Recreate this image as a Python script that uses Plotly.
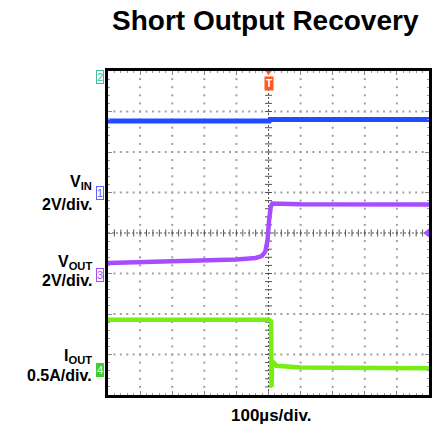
import numpy as np
import plotly.graph_objects as go

# ---- data (time in microseconds, 100 us/div, trigger at 0) ----
t_vin = [-500, 3, 6, 500]
vin_v = [3.53, 3.53, 3.60, 3.60]          # volts, 2 V/div

t_vout = [-500, -300, -100, -40, -21, -10, -3, 2, 7, 12, 100, 500]
vout_v = [0.60, 0.67, 0.77, 0.85, 0.94, 1.16, 1.73, 2.72, 3.38, 3.54, 3.50, 3.49]  # volts, 2 V/div

t_iout = [-500, 0, 8, 9.5, 11, 14, 25, 100, 500]
iout_a = [0.62, 0.62, 0.60, -0.21, 0.05, 0.10, 0.05, 0.03, 0.02]   # amps, 0.5 A/div

# channel scale (units/div) and ground offset (div)
ch1_scale, ch1_off = 2.0, 1.0
ch3_scale, ch3_off = 2.0, -1.04
ch4_scale, ch4_off = 0.5, -3.38
ch2_off = 3.85
trigger_level = 0.0

X_RANGE = [-500, 500]
Y_RANGE = [-4, 4]

BLUE = "#1f4cff"
PURPLE = "#a64dff"
GREEN = "#77ee11"
TEAL = "#3cbf9c"
ORANGE = "#ff5a1e"
GRID = "#555555"
FONT = "Liberation Sans"

def to_div(vals, scale, off):
    return [off + v / scale for v in vals]

fig = go.Figure()

# grid dots
gx, gy = [], []
for xv in range(-400, 401, 100):
    if xv == 0:
        continue
    for yv in np.arange(-3.8, 3.81, 0.2):
        gx.append(xv); gy.append(yv)
for yv in range(-3, 4):
    if yv == 0:
        continue
    for xv in range(-480, 481, 20):
        gx.append(xv); gy.append(yv)
fig.add_trace(go.Scatter(x=gx, y=gy, mode="markers", hoverinfo="skip",
                         marker=dict(symbol="square", size=2, color="#a0a0a0", line=dict(width=0))))

# centre crosshair
fig.add_trace(go.Scatter(x=X_RANGE, y=[0, 0], mode="lines", hoverinfo="skip",
                         line=dict(color=GRID, width=1, dash="2px,2px")))
fig.add_trace(go.Scatter(x=[0, 0], y=Y_RANGE, mode="lines", hoverinfo="skip",
                         line=dict(color=GRID, width=1, dash="2px,2px")))
cx = list(range(-480, 481, 20))
fig.add_trace(go.Scatter(x=cx, y=[0] * len(cx), mode="markers", hoverinfo="skip",
                         marker=dict(symbol="line-ns-open", size=5, color=GRID, line=dict(color=GRID, width=1))))
cy = list(np.arange(-3.8, 3.81, 0.2))
fig.add_trace(go.Scatter(x=[0] * len(cy), y=cy, mode="markers", hoverinfo="skip",
                         marker=dict(symbol="line-ew-open", size=5, color=GRID, line=dict(color=GRID, width=1))))

# traces
fig.add_trace(go.Scatter(x=t_vin, y=to_div(vin_v, ch1_scale, ch1_off), mode="lines",
                         line=dict(color=BLUE, width=5)))
fig.add_trace(go.Scatter(x=t_iout, y=to_div(iout_a, ch4_scale, ch4_off), mode="lines",
                         line=dict(color=GREEN, width=4.5)))
fig.add_trace(go.Scatter(x=t_vout, y=to_div(vout_v, ch3_scale, ch3_off), mode="lines",
                         line=dict(color=PURPLE, width=4.5)))

# trigger level arrow
fig.add_trace(go.Scatter(x=[494], y=[trigger_level], mode="markers", cliponaxis=False, hoverinfo="skip",
                         marker=dict(symbol="triangle-left", size=8, color=PURPLE)))

L, R, T, B = 108, 2, 71, 32
W, H = 434, 427
PW, PH = W - L - R, H - T - B

def px(xp):
    return (xp - L) / PW

def py(yp):
    return (H - B - yp) / PH

ann = []

def label(text, xp, yp, size=16, anchor="right", color="black"):
    ann.append(dict(text=text, x=px(xp), y=py(yp), xref="paper", yref="paper",
                    xanchor=anchor, yanchor="middle", showarrow=False,
                    font=dict(family=FONT, size=size, color=color, weight="bold")))

label("Short Output Recovery", 267, 21, size=28, anchor="center")
label("100µs/div.", 273, 415, size=17, anchor="center")
label("V<sub>IN</sub>", 94, 182)
label("2V/div.", 94, 205)
label("V<sub>OUT</sub>", 94, 262)
label("2V/div.", 94, 280)
label("I<sub>OUT</sub>", 94, 356)
label("0.5A/div.", 94, 375)

def chbox(text, yref_div, color, filled=False):
    ann.append(dict(text=text, x=px(100), y=yref_div, xref="paper", yref="y",
                    xanchor="center", yanchor="middle", showarrow=False,
                    font=dict(family=FONT, size=11, color="white" if filled else color),
                    bordercolor=color, borderwidth=1, borderpad=0,
                    bgcolor=color if filled else "white"))

chbox("2", ch2_off, TEAL)
chbox("1", ch1_off, "#5a63ff")
chbox("3", ch3_off, PURPLE)
chbox("4", ch4_off, "#3fcf2a", filled=True)

ann.append(dict(text="T", x=0, y=py(83), xref="x", yref="paper",
                xanchor="center", yanchor="middle", showarrow=False,
                font=dict(family=FONT, size=10, color="white", weight="bold"),
                bgcolor=ORANGE, borderpad=1))

fig.update_layout(
    width=W, height=H, margin=dict(l=L, r=R, t=T, b=B),
    paper_bgcolor="white", plot_bgcolor="white", showlegend=False,
    annotations=ann,
    xaxis=dict(range=X_RANGE, showgrid=False, zeroline=False, showticklabels=False,
               showline=True, linewidth=3, linecolor="black", mirror="allticks",
               ticks="inside", tick0=-500, dtick=100, ticklen=4, tickcolor="#888888",
               minor=dict(ticks="inside", dtick=20, ticklen=2, tickcolor="#999999")),
    yaxis=dict(range=Y_RANGE, showgrid=False, zeroline=False, showticklabels=False,
               showline=True, linewidth=3, linecolor="black", mirror="allticks",
               ticks="inside", tick0=-4, dtick=1, ticklen=4, tickcolor="#888888",
               minor=dict(ticks="inside", dtick=0.2, ticklen=2, tickcolor="#999999")),
)
fig.add_shape(type="path", xref="x", yref="paper",
              path="M -10,1 L 10,1 L 0,0.988 Z",
              fillcolor=ORANGE, line=dict(width=0))

fig.write_html("out.html", config={"displayModeBar": False},
               post_script="document.body.style.margin='0';document.body.style.padding='0';")
